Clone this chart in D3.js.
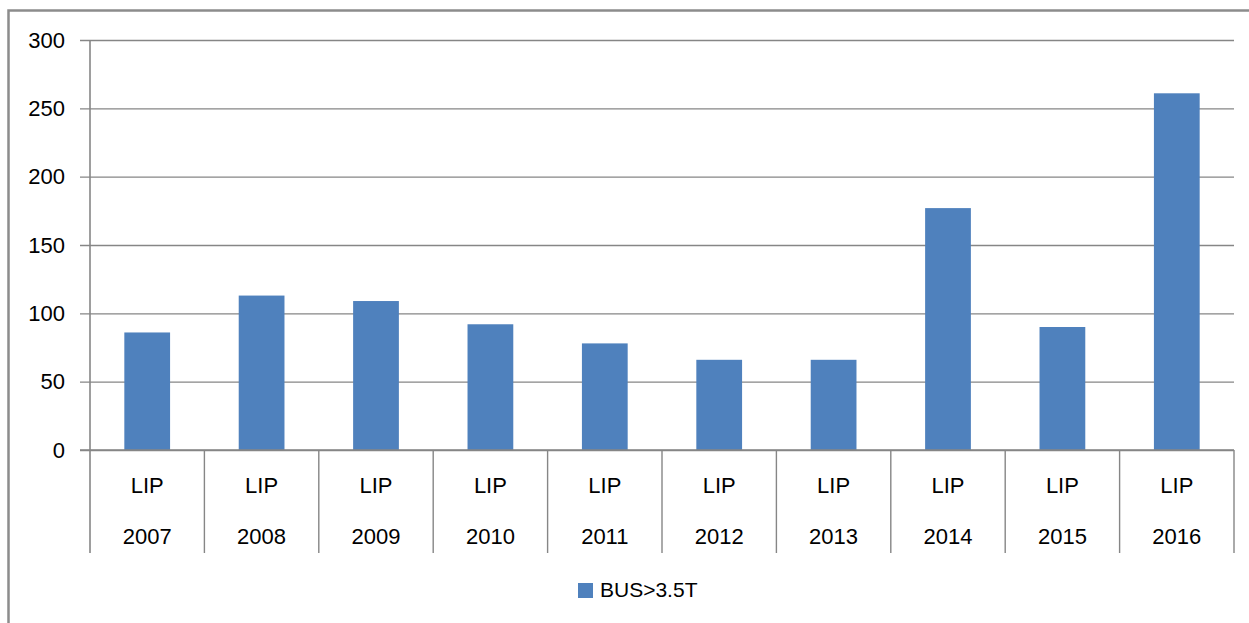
<!DOCTYPE html>
<html>
<head>
<meta charset="utf-8">
<script src="https://cdn.jsdelivr.net/npm/d3@7"></script>
<style>
  body { margin: 0; background: #fff; }
  svg { display: block; font-family: "Liberation Sans", Arial, sans-serif; }
</style>
</head>
<body>
<script>
const years = ["2007", "2008", "2009", "2010", "2011", "2012", "2013", "2014", "2015", "2016"];
const groupLabel = "LIP";
const seriesName = "BUS>3.5T";
const busValues = [86, 113, 109, 92, 78, 66, 66, 177, 90, 261];
const yTicks = [0, 50, 100, 150, 200, 250, 300];

const width = 1249;
const height = 623;
const plotLeft = 90;
const plotRight = 1234;
const plotTop = 40;
const plotBottom = 450;
const catBottom = 553;

const barColor = "#4f81bd";
const lineColor = "#868686";

const svg = d3
  .select("body")
  .append("svg")
  .attr("width", width)
  .attr("height", height);

// outer frame of the chart (runs off the right and bottom edge)
svg
  .append("rect")
  .attr("x", 8.5)
  .attr("y", 10.5)
  .attr("width", width + 20)
  .attr("height", height + 20)
  .attr("fill", "none")
  .attr("stroke", "#8c8c8c")
  .attr("stroke-width", 2.5);

const xScale = d3
  .scaleBand()
  .domain(years)
  .range([plotLeft, plotRight])
  .paddingInner(0.6)
  .paddingOuter(0.3);

const yScale = d3.scaleLinear().domain([0, 300]).range([plotBottom, plotTop]);

// gridlines + y labels
const yAxis = d3
  .axisLeft(yScale)
  .tickValues(yTicks)
  .tickSize(plotRight - plotLeft + 10)
  .tickSizeOuter(0)
  .tickPadding(15)
  .tickFormat(d3.format("d"));

const gy = svg
  .append("g")
  .attr("transform", `translate(${plotRight}, 0)`)
  .call(yAxis);

gy.select(".domain").remove();
gy.selectAll(".tick line")
  .attr("stroke", lineColor)
  .attr("stroke-width", 1.4);
gy.selectAll(".tick text")
  .attr("fill", "#000")
  .style("font-size", "22px")
  .style("font-family", "'Liberation Sans', Arial, sans-serif");

// bars
svg
  .selectAll("rect.bar")
  .data(busValues)
  .enter()
  .append("rect")
  .attr("class", "bar")
  .attr("x", (d, i) => xScale(years[i]))
  .attr("y", (d) => yScale(d))
  .attr("width", xScale.bandwidth())
  .attr("height", (d) => yScale(0) - yScale(d))
  .attr("fill", barColor);

// y axis line
svg
  .append("line")
  .attr("x1", plotLeft)
  .attr("x2", plotLeft)
  .attr("y1", plotTop)
  .attr("y2", catBottom)
  .attr("stroke", lineColor)
  .attr("stroke-width", 1.6);

// baseline
svg
  .append("line")
  .attr("x1", plotLeft - 10)
  .attr("x2", plotRight)
  .attr("y1", plotBottom)
  .attr("y2", plotBottom)
  .attr("stroke", lineColor)
  .attr("stroke-width", 1.4);

// category dividers
const step = xScale.step();
const edge = (d) => xScale(d) - xScale.paddingOuter() * step;
svg
  .selectAll("line.divider")
  .data(years.slice(1).concat(["end"]))
  .enter()
  .append("line")
  .attr("class", "divider")
  .attr("x1", (d) => (d === "end" ? plotRight : edge(d)))
  .attr("x2", (d) => (d === "end" ? plotRight : edge(d)))
  .attr("y1", plotBottom)
  .attr("y2", catBottom)
  .attr("stroke", lineColor)
  .attr("stroke-width", 1.4);

const center = (d) => xScale(d) + xScale.bandwidth() / 2;

svg
  .selectAll("text.group")
  .data(years)
  .enter()
  .append("text")
  .attr("class", "group")
  .attr("x", center)
  .attr("y", 493)
  .attr("text-anchor", "middle")
  .style("font-size", "22px")
  .text(groupLabel);

svg
  .selectAll("text.year")
  .data(years)
  .enter()
  .append("text")
  .attr("class", "year")
  .attr("x", center)
  .attr("y", 544)
  .attr("text-anchor", "middle")
  .style("font-size", "22px")
  .text((d) => d);

// legend
const legend = svg.append("g").attr("transform", "translate(578, 583)");
legend
  .append("rect")
  .attr("width", 15)
  .attr("height", 15)
  .attr("fill", barColor);
legend
  .append("text")
  .attr("x", 22)
  .attr("y", 14)
  .style("font-size", "21px")
  .text(seriesName);
</script>
</body>
</html>
